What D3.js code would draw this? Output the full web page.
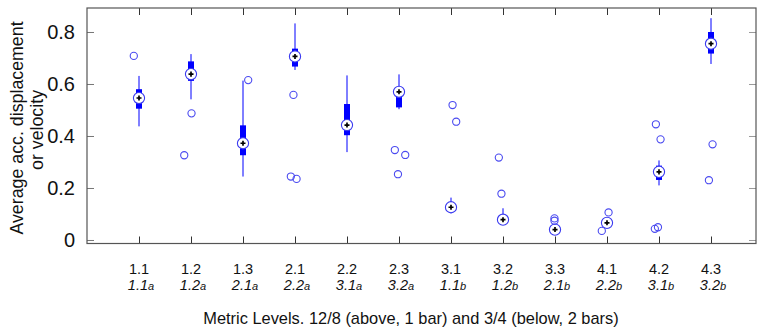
<!DOCTYPE html>
<html>
<head>
<meta charset="utf-8">
<script src="https://cdn.jsdelivr.net/npm/d3@7"></script>
<style>
  body { margin: 0; background: #fff; }
  text { font-family: "Liberation Sans", Arial, sans-serif; }
</style>
</head>
<body>
<script>
// metric levels (top row) and the matching 3/4 level (bottom row)
const levels = ["1.1","1.2","1.3","2.1","2.2","2.3","3.1","3.2","3.3","4.1","4.2","4.3"];
const lowerMain = ["1.1","1.2","2.1","2.2","3.1","3.2","1.1","1.2","2.1","2.2","3.1","3.2"];
const lowerSuffix = ["a","a","a","a","a","a","b","b","b","b","b","b"];

const whiskerLo = [0.437,0.541,0.244,0.654,0.338,0.503,0.103,0.077,0.040,0.060,0.210,0.677];
const q1        = [0.505,0.612,0.326,0.667,0.403,0.510,0.115,0.077,0.040,0.060,0.231,0.717];
const medians   = [0.546,0.638,0.372,0.706,0.442,0.570,0.126,0.078,0.040,0.066,0.262,0.755];
const q3        = [0.580,0.687,0.441,0.736,0.523,0.587,0.142,0.085,0.045,0.072,0.286,0.800];
const whiskerHi = [0.631,0.715,0.613,0.833,0.633,0.637,0.163,0.122,0.050,0.075,0.306,0.853];

// outliers: [level index, value, small horizontal jitter in level units]
const outliers = [
  [0,0.708,-0.10],[1,0.487,0.01],[1,0.326,-0.13],[2,0.615,0.10],
  [3,0.558,-0.03],[3,0.244,-0.08],[3,0.235,0.03],
  [5,0.346,-0.08],[5,0.327,0.12],[5,0.253,-0.02],
  [6,0.519,0.03],[6,0.455,0.10],[7,0.317,-0.08],[7,0.178,-0.03],
  [8,0.083,-0.01],[8,0.074,-0.01],[9,0.106,0.03],[9,0.035,-0.10],
  [10,0.445,-0.06],[10,0.387,0.03],[10,0.049,-0.02],[10,0.043,-0.08],
  [11,0.368,0.03],[11,0.230,-0.04]
];

const yTicks = [0,0.2,0.4,0.6,0.8];

const W = 757, H = 334;
const margin = { top: 8, right: 1, bottom: 90.5, left: 87 };
const width = W - margin.left - margin.right;
const height = H - margin.top - margin.bottom;

const svg = d3.select("body").append("svg")
  .attr("width", W).attr("height", H);

const g = svg.append("g")
  .attr("transform", "translate(" + margin.left + "," + margin.top + ")");

const x = d3.scaleLinear().domain([0, width / 52]).range([0, width]);
const y = d3.scaleLinear().domain([-0.0135, 0.8923]).range([height, 0]);

const xs = levels.map((d, i) => i + 1);

// axes with inward ticks on all four sides
const axisColor = "#333";
const fmt = d => d === 0 ? "0" : d3.format(".1f")(d);

const yAxis = g.append("g")
  .call(d3.axisLeft(y).tickValues(yTicks).tickSizeInner(-7).tickSizeOuter(0).tickPadding(12).tickFormat(fmt));
yAxis.select(".domain").remove();
yAxis.selectAll("line").attr("stroke", "#777");
yAxis.selectAll("text").attr("font-size", 20).attr("fill", "#111");

const yAxisR = g.append("g").attr("transform", "translate(" + width + ",0)")
  .call(d3.axisRight(y).tickValues(yTicks).tickSizeInner(-7).tickSizeOuter(0).tickFormat(""));
yAxisR.select(".domain").remove();
yAxisR.selectAll("line").attr("stroke", "#999");

const xAxis = g.append("g").attr("transform", "translate(0," + height + ")")
  .call(d3.axisBottom(x).tickValues(xs).tickSizeInner(-7).tickSizeOuter(0).tickFormat(""));
xAxis.select(".domain").remove();
xAxis.selectAll("line").attr("stroke", axisColor);

const xAxisT = g.append("g")
  .call(d3.axisTop(x).tickValues(xs).tickSizeInner(-7).tickSizeOuter(0).tickFormat(""));
xAxisT.select(".domain").remove();
xAxisT.selectAll("line").attr("stroke", axisColor);

g.append("rect")
  .attr("x", 0).attr("y", 0).attr("width", width).attr("height", height)
  .attr("fill", "none").attr("stroke", "#555").attr("stroke-width", 1.2);

// x tick labels, two rows
g.selectAll(".lab1").data(levels).enter().append("text")
  .attr("x", (d, i) => x(i + 1)).attr("y", height + 30)
  .attr("text-anchor", "middle").attr("font-size", 14.5).attr("fill", "#111")
  .text(d => d);

const lab2 = g.selectAll(".lab2").data(lowerMain).enter().append("text")
  .attr("x", (d, i) => x(i + 1) + 2).attr("y", height + 46)
  .attr("text-anchor", "middle").attr("font-size", 14.5).attr("font-style", "italic").attr("fill", "#111");
lab2.append("tspan").text(d => d);
lab2.append("tspan").attr("font-size", 11).text((d, i) => lowerSuffix[i]);

// axis titles
svg.append("text")
  .attr("x", 411).attr("y", 324)
  .attr("text-anchor", "middle").attr("font-size", 16.4).attr("fill", "#111")
  .text("Metric Levels. 12/8 (above, 1 bar) and 3/4 (below, 2 bars)");

svg.append("text")
  .attr("transform", "translate(23,128) rotate(-90)")
  .attr("text-anchor", "middle").attr("font-size", 17.8).attr("fill", "#111")
  .text("Average acc. displacement");
svg.append("text")
  .attr("transform", "translate(43,170) rotate(-90)")
  .attr("text-anchor", "start").attr("font-size", 17.8).attr("fill", "#111")
  .text("or velocity");

// box plots
const blue = "#0000ff";
const boxes = g.selectAll(".box").data(levels).enter().append("g");

boxes.append("line")
  .attr("x1", (d, i) => x(i + 1)).attr("x2", (d, i) => x(i + 1))
  .attr("y1", (d, i) => y(whiskerLo[i])).attr("y2", (d, i) => y(whiskerHi[i]))
  .attr("stroke", blue).attr("stroke-width", 1);

boxes.append("rect")
  .attr("x", (d, i) => x(i + 1) - 3).attr("width", 6)
  .attr("y", (d, i) => y(q3[i])).attr("height", (d, i) => Math.max(0, y(q1[i]) - y(q3[i])))
  .attr("fill", blue);

// outliers
g.selectAll(".out").data(outliers).enter().append("circle")
  .attr("cx", d => x(d[0] + 1 + d[2])).attr("cy", d => y(d[1]))
  .attr("r", 3.6).attr("fill", "none").attr("stroke", "#4a4af0").attr("stroke-width", 1.1);

// medians
boxes.append("circle")
  .attr("cx", (d, i) => x(i + 1)).attr("cy", (d, i) => y(medians[i]))
  .attr("r", 5.6).attr("fill", "#fff").attr("stroke", "#3a3af0").attr("stroke-width", 1.1);
boxes.append("path")
  .attr("transform", (d, i) => "translate(" + x(i + 1) + "," + y(medians[i]) + ")")
  .attr("d", d3.symbol(d3.symbolCross, 14))
  .attr("fill", "#000");
</script>
</body>
</html>
